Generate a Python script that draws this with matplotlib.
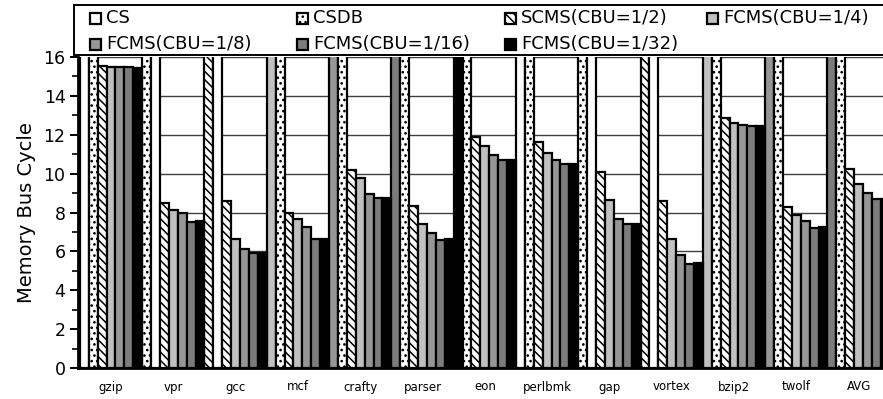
import matplotlib
matplotlib.use('Agg')
import matplotlib.pyplot as plt
from matplotlib.patches import Rectangle
from matplotlib.ticker import MultipleLocator
import numpy as np

categories = ['gzip', 'vpr', 'gcc', 'mcf', 'crafty', 'parser', 'eon',
              'perlbmk', 'gap', 'vortex', 'bzip2', 'twolf', 'AVG']
series_names = ['CS', 'CSDB', 'SCMS(CBU=1/2)', 'FCMS(CBU=1/4)',
                'FCMS(CBU=1/8)', 'FCMS(CBU=1/16)', 'FCMS(CBU=1/32)']

# CS and CSDB are off the scale (> 16) in every group
cs = [20, 20, 20, 20, 20, 20, 20, 20, 20, 20, 20, 20, 20]
csdb = [20, 20, 20, 20, 20, 20, 20, 20, 20, 20, 20, 20, 20]
scms = [15.55, 8.50, 8.58, 8.00, 10.20, 8.33, 11.90, 11.62, 10.06, 8.60, 12.84, 8.30, 10.22]
fcms4 = [15.50, 8.13, 6.62, 7.65, 9.77, 7.40, 11.42, 11.05, 8.65, 6.62, 12.60, 7.87, 9.45]
fcms8 = [15.48, 7.95, 6.12, 7.27, 8.95, 6.93, 10.96, 10.70, 7.65, 5.81, 12.50, 7.58, 8.99]
fcms16 = [15.46, 7.53, 5.90, 6.65, 8.74, 6.58, 10.68, 10.50, 7.42, 5.37, 12.45, 7.20, 8.69]
fcms32 = [15.45, 7.55, 5.92, 6.66, 8.74, 6.62, 10.72, 10.52, 7.43, 5.42, 12.45, 7.25, 8.70]
values = [cs, csdb, scms, fcms4, fcms8, fcms16, fcms32]

# fill styles of the series (legend order)
HATCH_DIAG = '\\' * 4
styles = [dict(fc='white', hatch=None),
          dict(fc='white', hatch='...'),
          dict(fc='white', hatch=HATCH_DIAG),
          dict(fc='#c0c0c0', hatch=None),
          dict(fc='#969696', hatch=None),
          dict(fc='#7c7c7c', hatch=None),
          dict(fc='black', hatch=None)]

# the off-scale bars in the reference are rendered with these fills
cs_fill = [0, 1, 2, 3, 4, 5, 6, 0, 1, 2, 3, 4, 5]
csdb_fill = [1, 0, 0, 1, 1, 1, 1, 1, 0, 0, 1, 1, 1]

plt.rcParams['font.family'] = ['DejaVu Sans']
plt.rcParams['hatch.linewidth'] = 1.1

W, H = 883, 399
fig = plt.figure(figsize=(W / 100, H / 100), dpi=100)
ax_left = 78 / W
ax_bottom = (H - 368) / H
ax_height = (368 - 57) / H
x_lo, x_hi = -0.53, 12.53
group_px = 62.3
ax_width = (x_hi - x_lo) * group_px / W
ax = fig.add_axes([ax_left, ax_bottom, ax_width, ax_height])

n = len(series_names)
bw = 1.0 / n
x = np.arange(len(categories))
for j, vals in enumerate(values):
    bars = ax.bar(x + (j - (n - 1) / 2) * bw, vals, width=bw,
                  edgecolor='black', linewidth=1.6, zorder=3)
    for i, b in enumerate(bars):
        if j == 0:
            st = styles[cs_fill[i]]
        elif j == 1:
            st = styles[csdb_fill[i]]
        else:
            st = styles[j]
        b.set_facecolor(st['fc'])
        if st['hatch']:
            b.set_hatch(st['hatch'])

ax.set_xlim(x_lo, x_hi)
ax.set_ylim(0, 16)
ax.set_xticks(x)
ax.set_xticklabels(categories, fontsize=8.5)
ax.tick_params(axis='x', length=0, pad=9)
ax.yaxis.set_major_locator(MultipleLocator(2))
ax.yaxis.set_minor_locator(MultipleLocator(1))
ax.tick_params(axis='y', which='major', length=6, width=1.4, labelsize=12.5, pad=3)
ax.tick_params(axis='y', which='minor', length=4, width=1.2)
ax.set_ylabel('Memory Bus Cycle', fontsize=14, labelpad=5)
ax.yaxis.grid(True, color='#404040', linewidth=1.0, zorder=0)
ax.set_axisbelow(True)
for s in ['top', 'right']:
    ax.spines[s].set_visible(False)
for s in ['left', 'bottom']:
    ax.spines[s].set_linewidth(2)
    ax.spines[s].set_zorder(4)

# legend box drawn in pixel coordinates on an overlay
lax = fig.add_axes([0, 0, 1, 1], zorder=10)
lax.set_xlim(0, W)
lax.set_ylim(H, 0)
lax.axis('off')
lax.add_patch(Rectangle((74, 5), 830, 50, facecolor='white',
                        edgecolor='black', linewidth=1.4))
col_x = [90, 297, 505, 707]
row_y = [18, 44]
for k, (name, st) in enumerate(zip(series_names, styles)):
    r, c = divmod(k, 4)
    hx, hy = col_x[c], row_y[r]
    lax.add_patch(Rectangle((hx, hy - 5.5), 11, 11, facecolor=st['fc'],
                            edgecolor='black', linewidth=1.6,
                            hatch=st['hatch']))
    lax.text(hx + 16, hy, name, fontsize=13, va='center', ha='left')

fig.savefig('out.png', dpi=100)
